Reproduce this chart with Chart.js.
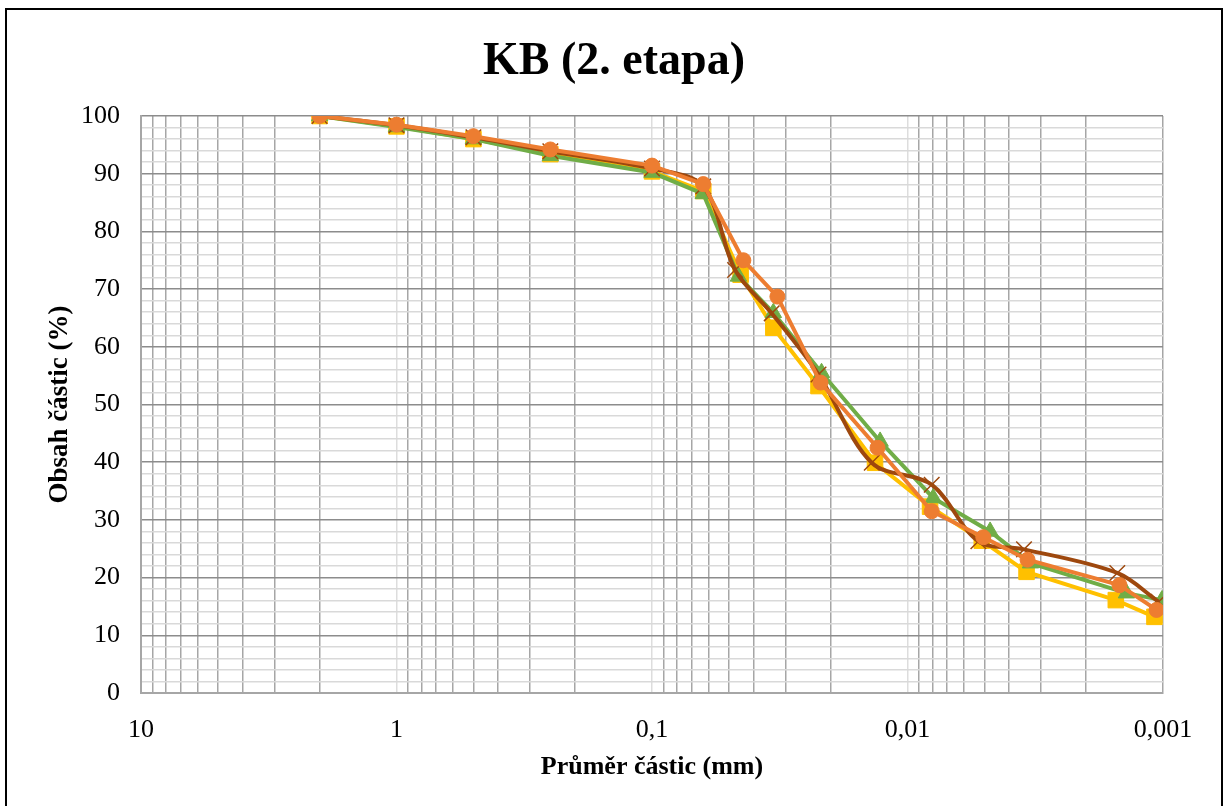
<!DOCTYPE html>
<html lang="cs">
<head>
<meta charset="utf-8">
<title>KB (2. etapa)</title>
<script src="https://cdn.jsdelivr.net/npm/chart.js@4.4.1/dist/chart.umd.min.js"></script>
<style>
  html, body { margin: 0; padding: 0; background: #fff; overflow: hidden; }
  #ramecek {
    position: absolute; left: 5px; top: 8px;
    width: 1214px; height: 900px;
    border: 2px solid #000;
  }
  #obal { position: absolute; left: 0; top: 0; width: 1228px; height: 806px; }
</style>
</head>
<body>
<div id="ramecek"></div>
<div id="obal"><canvas id="grafKB" width="1228" height="806"></canvas></div>
<script>
// ========================================
// Zrnitostní křivka KB (2. etapa)
// sítový rozbor + hustoměrná zkouška
// ========================================

// sítový rozbor - společné průměry sít (mm)
const prumerSita = [2, 1, 0.5, 0.25, 0.1, 0.063]

// hustoměr - průměry částic (mm) pro jednotlivé vzorky
const prumerHustA = [0.045, 0.0335, 0.0223, 0.0134, 0.00816, 0.00512, 0.00342, 0.00153, 0.00108]
const prumerHustB = [0.0459, 0.0335, 0.0217, 0.0128, 0.00793, 0.00475, 0.0033, 0.00139, 0.00101]
const prumerHustC = [0.0473, 0.034, 0.0223, 0.0138, 0.00804, 0.00528, 0.0035, 0.00151, 0.00104]
const prumerHustD = [0.0439, 0.0323, 0.0219, 0.0131, 0.00804, 0.00505, 0.00339, 0.00148, 0.00106]

// obsah částic (%) - síta a hustoměr za sebou
const obsahA = [100, 98.2, 96.0, 93.4, 90.4, 87.0, 72.5, 63.3, 53.2, 39.9, 32.3, 26.4, 21.0, 16.1, 13.2]
const obsahB = [100, 98.1, 96.0, 93.1, 90.2, 86.5, 72.2, 65.9, 55.5, 43.6, 33.8, 28.0, 22.5, 17.3, 16.1]
const obsahC = [100, 98.4, 96.3, 93.9, 90.9, 87.8, 73.3, 65.8, 55.2, 39.9, 36.1, 26.3, 24.9, 20.8, 15.8]
const obsahD = [100, 98.5, 96.5, 94.2, 91.4, 88.2, 75.0, 68.7, 53.8, 42.5, 31.5, 27.0, 23.1, 18.7, 14.4]

// popisky osy x (dekády)
const dekady = [10, 1, 0.1, 0.01, 0.001]
const popiskyDekad = ["10", "1", "0,1", "0,01", "0,001"]

const PISMO = "'Liberation Serif', 'Times New Roman', serif"

function body(hust, obsah) {
  const prumery = prumerSita.concat(hust)
  return prumery.map((d, i) => ({ x: d, y: obsah[i] }))
}

// svislé mřížky: 1..9 v každé dekádě
function hodnotyMrizkyX() {
  const hodnoty = []
  for (let e = -3; e <= 0; e++) {
    for (let s = 1; s <= 9; s++) {
      hodnoty.push(Number((s * Math.pow(10, e)).toPrecision(3)))
    }
  }
  hodnoty.push(10)
  return hodnoty
}

function jeDekada(v) {
  return dekady.some((d) => Math.abs(v - d) < d * 1e-6)
}

const ctx = document.getElementById("grafKB").getContext("2d")

new Chart(ctx, {
  type: "line",
  data: {
    datasets: [
      {
        data: body(prumerHustA, obsahA),
        borderColor: "#FFC000",
        backgroundColor: "#FFC000",
        borderWidth: 4,
        pointStyle: "rect",
        pointRadius: 11,
        pointBorderWidth: 1,
        tension: 0,
        order: 4,
      },
      {
        data: body(prumerHustB, obsahB),
        borderColor: "#70AD47",
        backgroundColor: "#70AD47",
        borderWidth: 4,
        pointStyle: "triangle",
        pointRadius: 9.5,
        pointBorderWidth: 1,
        tension: 0,
        order: 3,
      },
      {
        // vyhlazená čára
        data: body(prumerHustC, obsahC),
        borderColor: "#9E480E",
        backgroundColor: "#9E480E",
        borderWidth: 4,
        pointStyle: "crossRot",
        pointRadius: 11,
        pointBorderWidth: 1.5,
        tension: 0.33,
        order: 2,
      },
      {
        data: body(prumerHustD, obsahD),
        borderColor: "#ED7D31",
        backgroundColor: "#ED7D31",
        borderWidth: 4,
        pointStyle: "circle",
        pointRadius: 7.5,
        pointBorderWidth: 1,
        tension: 0,
        order: 1,
      },
    ],
  },
  options: {
    responsive: false,
    animation: false,
    events: [],
    layout: { padding: 0 },
    plugins: {
      legend: { display: false },
      tooltip: { enabled: false },
      title: {
        display: true,
        text: "KB (2. etapa)",
        color: "#000",
        font: { family: PISMO, size: 46, weight: "bold" },
        padding: { top: 34.4, bottom: 26.4 },
      },
    },
    scales: {
      x: {
        type: "logarithmic",
        reverse: true,
        min: 0.001,
        max: 10,
        afterBuildTicks(scale) {
          scale.ticks = hodnotyMrizkyX().map((v) => ({ value: v }))
        },
        afterFit(scale) {
          scale.height = 113
          scale.paddingRight = 65
        },
        ticks: {
          autoSkip: false,
          maxRotation: 0,
          padding: 22,
          color: "#000",
          font: { family: PISMO, size: 26 },
          callback(value) {
            const i = dekady.findIndex((d) => Math.abs(value - d) < d * 1e-6)
            return i >= 0 ? popiskyDekad[i] : ""
          },
        },
        grid: {
          drawTicks: false,
          lineWidth: 1.5,
          color(c) {
            const v = c.tick ? c.tick.value : 0
            if (v === 10 || v === 0.001) return "#A6A6A6"
            return jeDekada(v) ? "#DDDDDD" : "#A6A6A6"
          },
        },
        border: { display: true, color: "#A6A6A6", width: 2 },
        title: {
          display: true,
          text: "Průměr částic (mm)",
          color: "#000",
          font: { family: PISMO, size: 26, weight: "bold" },
          padding: { top: 0, bottom: 23 },
        },
      },
      y: {
        min: 0,
        max: 100,
        afterFit(scale) {
          scale.width = 141
        },
        ticks: {
          stepSize: 2,
          autoSkip: false,
          padding: 21,
          color: "#000",
          font: { family: PISMO, size: 26 },
          callback(value) {
            return value % 10 === 0 ? String(value) : ""
          },
        },
        grid: {
          drawTicks: false,
          lineWidth: 1.5,
          color(c) {
            const v = c.tick ? c.tick.value : 0
            return v % 10 === 0 ? "#8C8C8C" : "#D9D9D9"
          },
        },
        border: { display: true, color: "#A6A6A6", width: 2 },
        title: {
          display: true,
          text: "Obsah částic (%)",
          color: "#000",
          font: { family: PISMO, size: 27, weight: "bold" },
          padding: { top: 44, bottom: 0 },
        },
      },
    },
  },
})
</script>
</body>
</html>
